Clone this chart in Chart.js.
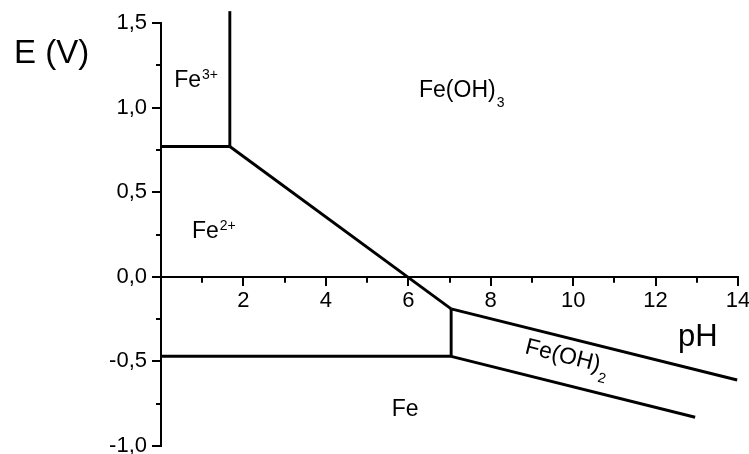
<!DOCTYPE html>
<html><head><meta charset="utf-8">
<script src="https://cdn.jsdelivr.net/npm/chart.js@4.4.0/dist/chart.umd.min.js"></script>
<style>html,body{margin:0;padding:0;background:#fff}</style>
</head><body>
<canvas id="c" width="749" height="454"></canvas>
<script>
// Boundary lines of the Fe Pourbaix diagram (pH, E in V)
const fe3Fe2PH = [0, 1.67];      const fe3Fe2E = [0.77, 0.77];
const fe3OH3PH = [1.67, 1.67];   const fe3OH3E = [0.77, 1.57];
const fe2OH3PH = [1.67, 7.04];   const fe2OH3E = [0.77, -0.19];
const fe2OH2PH = [7.04, 7.04];   const fe2OH2E = [-0.19, -0.47];
const feFe2PH  = [0, 7.04];      const feFe2E  = [-0.47, -0.47];
const oh2oh3PH = [7.04, 13.98];  const oh2oh3E = [-0.19, -0.61];
const feOH2PH  = [7.04, 12.96];  const feOH2E  = [-0.47, -0.83];

const xMajorTicks = [2, 4, 6, 8, 10, 12, 14];
const xMinorTicks = [1, 3, 5, 7, 9, 11, 13];
const yMajorTicks = [-1.0, -0.5, 0.0, 0.5, 1.0, 1.5];
const yMinorTicks = [-0.75, -0.25, 0.25, 0.75, 1.25];

const FONT = '"Liberation Sans", Arial, sans-serif';

const lines = [
  [fe3Fe2PH, fe3Fe2E], [fe3OH3PH, fe3OH3E], [fe2OH3PH, fe2OH3E],
  [fe2OH2PH, fe2OH2E], [feFe2PH, feFe2E], [oh2oh3PH, oh2oh3E], [feOH2PH, feOH2E]
];

const datasets = lines.map(([xs, ys]) => ({
  data: xs.map((x, i) => ({ x: x, y: ys[i] })),
  showLine: true,
  borderColor: '#000',
  borderWidth: 2.9,
  pointRadius: 0,
  pointHoverRadius: 0,
  clip: false,
  tension: 0
}));

// text parts: [text, kind] kind: n normal, sup, sub
const regionLabels = [
  { x: 0.32, y: 1.12, parts: [['Fe', 'n'], ['3+', 'sup']], rot: 0 },
  { x: 0.75, y: 0.23, parts: [['Fe', 'n'], ['2+', 'sup']], rot: 0 },
  { x: 6.26, y: 1.06, parts: [['Fe(OH)', 'n'], ['3', 'sub']], rot: 0 },
  { x: 5.6, y: -0.82, parts: [['Fe', 'n']], rot: 0 },
  { x: 8.81, y: -0.45, parts: [['Fe(OH)', 'n'], ['2', 'sub']], rot: 14 }
];

const extras = {
  id: 'extras',
  afterDatasetsDraw(chart) {
    const ctx = chart.ctx;
    const xs = chart.scales.x, ys = chart.scales.y;
    const x0 = xs.getPixelForValue(0), y0 = ys.getPixelForValue(0);
    ctx.save();
    ctx.strokeStyle = '#000';
    ctx.lineWidth = 2;
    ctx.beginPath();
    xMinorTicks.forEach(v => {
      const px = Math.round(xs.getPixelForValue(v));
      ctx.moveTo(px, y0); ctx.lineTo(px, y0 + 6);
    });
    yMinorTicks.forEach(v => {
      const py = Math.round(ys.getPixelForValue(v));
      ctx.moveTo(x0, py); ctx.lineTo(x0 - 5, py);
    });
    ctx.stroke();

    ctx.fillStyle = '#000';
    ctx.textBaseline = 'alphabetic';
    ctx.textAlign = 'left';
    regionLabels.forEach(l => {
      ctx.save();
      ctx.translate(xs.getPixelForValue(l.x), ys.getPixelForValue(l.y));
      ctx.rotate(l.rot * Math.PI / 180);
      let cx = 0;
      l.parts.forEach(([t, k]) => {
        if (k === 'n') {
          ctx.font = '23px ' + FONT;
          ctx.fillText(t, cx, 0);
        } else if (k === 'sup') {
          ctx.font = '14px ' + FONT;
          ctx.fillText(t, cx + 1, -8);
        } else {
          ctx.font = '14px ' + FONT;
          ctx.fillText(t, cx + 1, 10);
        }
        cx += ctx.measureText(t).width;
      });
      ctx.restore();
    });

    ctx.font = '33px ' + FONT;
    ctx.fillText('E (V)', 14, 63);
    ctx.font = '31px ' + FONT;
    ctx.fillText('pH', 678, 346);
    ctx.restore();
  }
};

function zeroPad(s) {
  s.paddingLeft = 0; s.paddingRight = 0; s.paddingTop = 0; s.paddingBottom = 0;
}

new Chart(document.getElementById('c'), {
  type: 'scatter',
  data: { datasets },
  options: {
    responsive: false,
    animation: false,
    devicePixelRatio: 1,
    layout: { autoPadding: false, padding: { top: 23, bottom: 8, right: 11, left: 0 } },
    plugins: { legend: { display: false }, tooltip: { enabled: false } },
    events: [],
    scales: {
      x: {
        type: 'linear',
        min: 0, max: 14,
        position: { y: 0 },
        afterFit: s => { s.height = 0; zeroPad(s); },
        grid: { drawOnChartArea: false, drawTicks: true, tickLength: 8, color: '#000', lineWidth: 2 },
        border: { color: '#000', width: 2 },
        afterBuildTicks: s => { s.ticks = [0].concat(xMajorTicks).map(v => ({ value: v })); },
        ticks: {
          callback: v => (xMajorTicks.includes(v) ? String(v) : ''),
          color: '#000',
          padding: 3,
          maxRotation: 0,
          autoSkip: false,
          font: { family: FONT, size: 22 }
        }
      },
      y: {
        type: 'linear',
        min: -1, max: 1.5,
        position: 'left',
        afterFit: s => { s.width = 161; zeroPad(s); },
        grid: { drawOnChartArea: false, drawTicks: true, tickLength: 9, color: '#000', lineWidth: 2 },
        border: { color: '#000', width: 2 },
        afterBuildTicks: s => { s.ticks = yMajorTicks.map(v => ({ value: v })); },
        ticks: {
          callback: v => Number(v).toFixed(1).replace('.', ','),
          color: '#000',
          padding: 5,
          autoSkip: false,
          font: { family: FONT, size: 22 }
        }
      }
    }
  },
  plugins: [extras]
});
</script>
</body></html>
